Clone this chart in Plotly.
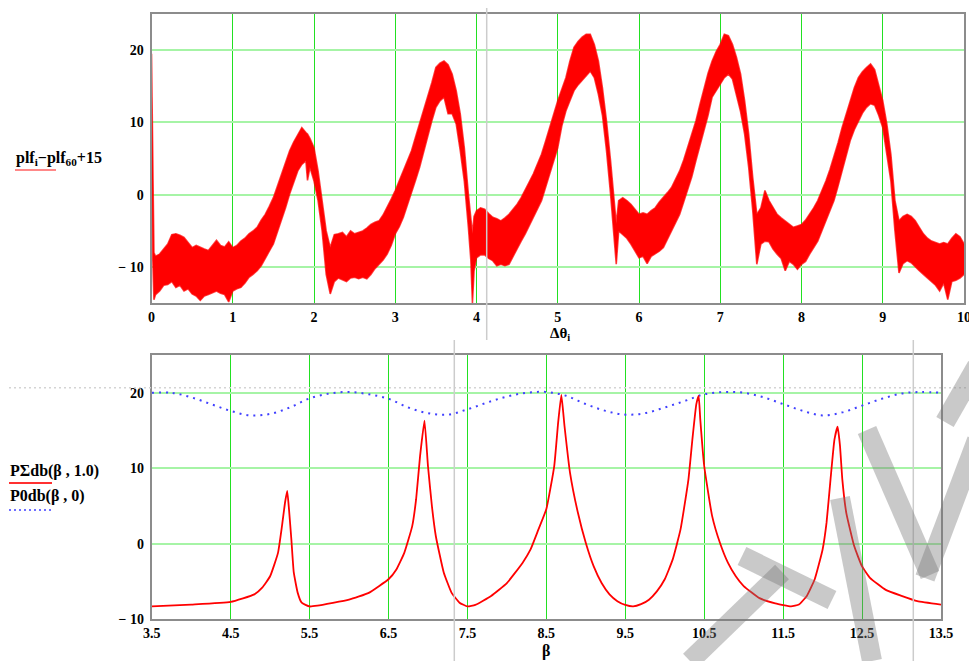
import plotly.graph_objects as go

# ---------------- data: top panel (noisy measured band) ----------------
theta = [0.00, 0.008, 0.016, 0.03, 0.05, 0.1, 0.15, 0.2, 0.25, 0.3, 0.35, 0.4, 0.45, 0.5, 0.55, 0.6, 0.65, 0.7, 0.75, 0.8,
         0.85, 0.9, 0.95, 1.0, 1.05, 1.1, 1.15, 1.2, 1.25, 1.3, 1.35, 1.4, 1.45, 1.5, 1.55, 1.6, 1.65, 1.7, 1.75, 1.8,
         1.85, 1.9, 1.92, 1.95, 2.0, 2.05, 2.1, 2.15, 2.2, 2.25, 2.3, 2.35, 2.4, 2.45, 2.5, 2.55, 2.6, 2.65, 2.7, 2.75,
         2.8, 2.85, 2.9, 2.95, 3.0, 3.05, 3.1, 3.15, 3.2, 3.25, 3.3, 3.35, 3.4, 3.45, 3.5, 3.55, 3.6, 3.65, 3.7, 3.75,
         3.8, 3.85, 3.9, 3.93, 3.95, 3.97, 4.0, 4.05, 4.1, 4.15, 4.2, 4.25, 4.3, 4.35, 4.4, 4.45, 4.5, 4.55, 4.6, 4.65,
         4.7, 4.75, 4.8, 4.85, 4.9, 4.95, 5.0, 5.05, 5.1, 5.15, 5.2, 5.25, 5.3, 5.35, 5.4, 5.45, 5.5, 5.55, 5.6, 5.65,
         5.7, 5.72, 5.75, 5.8, 5.85, 5.9, 5.95, 6.0, 6.05, 6.1, 6.15, 6.2, 6.25, 6.3, 6.35, 6.4, 6.45, 6.5, 6.55, 6.6,
         6.65, 6.7, 6.75, 6.8, 6.85, 6.9, 6.95, 7.0, 7.05, 7.1, 7.15, 7.2, 7.25, 7.3, 7.35, 7.4, 7.45, 7.5, 7.55, 7.6,
         7.65, 7.7, 7.75, 7.8, 7.85, 7.9, 7.95, 8.0, 8.05, 8.1, 8.15, 8.2, 8.25, 8.3, 8.35, 8.4, 8.45, 8.5, 8.55, 8.6,
         8.65, 8.7, 8.75, 8.8, 8.85, 8.9, 8.95, 9.0, 9.05, 9.1, 9.15, 9.2, 9.25, 9.3, 9.35, 9.4, 9.45, 9.5, 9.55, 9.6,
         9.65, 9.7, 9.75, 9.8, 9.85, 9.9, 9.95, 10.0]
plf_upper = [19.5, 12.0, 1.0, -8.0, -8.5, -8.2, -7.5, -6.8, -5.5, -5.4, -5.6, -5.9, -6.6, -7.3, -7.0, -7.3, -7.5, -7.7, -7.0, -6.3,
             -7.0, -7.2, -6.5, -7.3, -7.0, -6.4, -6.0, -5.4, -5.0, -4.5, -3.5, -2.7, -1.6, -0.4, 1.2, 2.9, 4.5, 6.1, 7.3, 8.4,
             9.3, 8.6, 8.4, 7.8, 6.5, 3.3, -0.8, -5.0, -7.3, -5.5, -5.4, -5.2, -5.8, -5.0, -5.4, -5.2, -5.0, -4.6, -4.1, -3.8,
             -3.6, -2.8, -1.8, -0.6, 0.6, 2.0, 3.3, 4.8, 6.1, 8.0, 9.8, 11.8, 13.5, 15.5, 17.6, 18.2, 18.5, 18.0, 16.7, 14.4,
             11.2, 6.5, 0.1, -3.0, -5.4, -3.0, -2.2, -1.8, -2.0, -2.6, -3.1, -3.3, -3.6, -3.2, -2.7, -2.0, -1.3, -0.4, 0.6, 1.8,
             2.9, 4.2, 5.6, 7.4, 9.3, 11.2, 13.0, 14.6, 16.2, 18.5, 20.4, 21.2, 21.8, 22.2, 22.2, 20.8, 18.5, 14.8, 10.2, 4.7,
             -2.2, -4.0, -0.8, -0.4, -0.8, -1.3, -2.0, -2.7, -2.5, -2.7, -2.2, -1.8, -1.0, -0.4, 0.3, 1.0, 2.2, 3.3, 4.8, 6.5,
             8.3, 10.2, 12.5, 14.8, 16.8, 18.5, 19.8, 20.8, 22.2, 22.0, 20.8, 19.0, 16.7, 13.0, 8.4, 2.4, -2.7, -1.8, 0.6, -0.8,
             -1.8, -2.7, -3.2, -3.6, -4.0, -4.5, -4.3, -4.1, -3.5, -2.7, -1.8, -0.8, 0.5, 1.9, 3.5, 5.2, 7.2, 9.3, 11.2, 13.0,
             14.8, 16.2, 17.0, 17.6, 18.1, 17.3, 15.3, 13.0, 9.8, 5.6, -0.8, -3.6, -3.0, -2.7, -3.0, -3.6, -4.5, -5.4, -6.0, -6.4,
             -6.6, -6.8, -6.6, -6.8, -6.0, -5.4, -5.8, -6.8]
plf_lower = [10.0, 0.5, -9.0, -14.5, -13.8, -13.3, -12.5, -12.4, -12.0, -12.8, -12.5, -13.3, -13.0, -13.7, -14.0, -14.6, -14.0, -13.8, -13.5, -13.3,
             -13.6, -13.8, -14.8, -13.3, -13.0, -12.8, -12.2, -11.4, -11.0, -10.5, -9.8, -8.7, -7.8, -6.8, -5.2, -3.6, -1.8, 0.1, 1.8, 3.3,
             4.2, 4.7, 2.0, 3.8, 1.9, -0.8, -5.0, -11.0, -13.7, -12.0, -11.5, -11.8, -12.0, -11.5, -11.4, -11.6, -11.4, -11.6, -11.0, -10.2,
             -9.6, -9.0, -8.2, -7.0, -5.4, -4.4, -3.1, -1.5, 0.1, 2.0, 3.8, 6.0, 8.4, 10.2, 12.1, 13.0, 13.5, 11.2, 11.2, 9.8,
             6.1, 1.9, -4.5, -9.0, -15.0, -10.5, -8.7, -8.3, -8.3, -8.8, -9.1, -9.8, -9.6, -9.8, -9.6, -8.5, -7.3, -6.4, -5.4, -4.2,
             -3.1, -2.0, -0.8, 1.0, 2.9, 4.8, 6.5, 9.5, 11.6, 13.0, 14.4, 15.2, 15.8, 16.5, 17.1, 16.2, 13.9, 11.0, 6.1, 0.1,
             -7.3, -9.6, -5.0, -5.5, -6.0, -6.8, -7.8, -8.7, -8.5, -9.5, -8.5, -8.2, -7.8, -7.3, -6.2, -5.0, -3.8, -2.7, -1.0, 0.6,
             2.5, 4.7, 6.8, 8.8, 11.0, 13.5, 14.5, 15.3, 16.2, 16.7, 16.0, 13.9, 11.5, 8.4, 3.8, -2.2, -9.6, -6.8, -6.4, -6.5,
             -7.5, -8.2, -8.8, -10.5, -9.2, -9.6, -10.3, -9.6, -9.2, -8.2, -7.3, -6.4, -5.0, -3.6, -2.2, -0.8, 1.2, 3.3, 5.5, 7.5,
             9.0, 10.2, 11.3, 12.1, 12.6, 12.4, 11.0, 9.3, 5.6, 1.9, -5.0, -10.8, -9.5, -9.1, -9.4, -10.0, -10.5, -11.0, -11.5, -11.9,
             -12.5, -13.3, -12.2, -14.5, -12.0, -11.8, -11.5, -11.0]

top_xticks = [0, 1, 2, 3, 4, 5, 6, 7, 8, 9, 10]
y_ticks = [-10, 0, 10, 20]
y_ticktext = ["\u2212 10", "0", "10", "20"]

# ---------------- data: bottom panel ----------------
beta_sum = [3.5, 4.0, 4.5, 4.8, 4.9, 5.0, 5.1, 5.15, 5.19, 5.217, 5.24, 5.27, 5.3, 5.35, 5.4, 5.5, 5.6, 6.0, 6.25, 6.5,
            6.6, 6.7, 6.8, 6.85, 6.9, 6.956, 7.0, 7.05, 7.1, 7.2, 7.3, 7.4, 7.5, 7.6, 7.8, 8.0, 8.2, 8.3, 8.4, 8.5,
            8.6, 8.65, 8.69, 8.73, 8.8, 8.9, 9.0, 9.1, 9.2, 9.3, 9.4, 9.5, 9.6, 9.7, 9.8, 9.9, 10.0, 10.1, 10.2, 10.3,
            10.35, 10.4, 10.43, 10.45, 10.5, 10.6, 10.7, 10.8, 10.9, 11.0, 11.2, 11.4, 11.6, 11.7, 11.8, 11.9, 12.0, 12.05, 12.1, 12.15,
            12.19, 12.22, 12.25, 12.3, 12.4, 12.5, 12.6, 12.8, 13.0, 13.2, 13.5]
p_sum_db = [-8.3, -8.05, -7.7, -6.7, -5.8, -4.3, -1.2, 2.3, 5.5, 7.0, 4.5, 0.5, -3.8, -6.5, -7.8, -8.3, -8.2, -7.4, -6.5, -4.7,
            -3.4, -1.2, 2.3, 5.9, 11.6, 16.3, 10.3, 5.0, 1.0, -3.8, -6.5, -7.8, -8.3, -8.1, -6.9, -5.2, -2.5, -0.75, 1.9, 4.6,
            10.3, 16.1, 19.7, 15.6, 9.4, 4.1, 0.1, -3.0, -5.2, -6.7, -7.6, -8.1, -8.3, -8.0, -7.4, -6.3, -4.7, -2.1, 1.9, 8.5,
            13.8, 18.5, 19.6, 16.5, 10.3, 3.7, 0.1, -2.5, -4.3, -5.6, -7.2, -7.9, -8.3, -8.05, -6.9, -4.7, -0.75, 2.8, 8.5, 13.8,
            15.5, 13.0, 8.5, 4.1, -0.3, -3.0, -4.5, -6.1, -6.9, -7.6, -8.05]

beta_p0 = [3.5, 3.75, 4.0, 4.25, 4.5, 4.75, 5.0, 5.25, 5.5, 5.75, 6.0, 6.25, 6.5, 6.75, 7.0, 7.25, 7.5, 7.75, 8.0, 8.25,
           8.5, 8.75, 9.0, 9.25, 9.5, 9.75, 10.0, 10.25, 10.5, 10.75, 11.0, 11.25, 11.5, 11.75, 12.0, 12.25, 12.5, 12.75, 13.0, 13.25, 13.5]
p0_db = [20.0, 20.0, 19.4, 18.5, 17.6, 17.0, 17.2, 18.05, 19.25, 19.9, 20.1, 19.8, 19.2, 18.05, 17.3, 17.1, 17.8, 18.7, 19.5, 20.0,
         20.1, 19.6, 18.5, 17.6, 17.1, 17.3, 18.05, 18.9, 19.8, 20.1, 20.0, 19.4, 18.5, 17.6, 17.0, 17.4, 18.3, 19.2, 19.9, 20.1, 20.0]

bottom_xticks = [3.5, 4.5, 5.5, 6.5, 7.5, 8.5, 9.5, 10.5, 11.5, 12.5, 13.5]
bottom_xticktext = ["3.5", "4.5", "5.5", "6.5", "7.5", "8.5", "9.5", "10.5", "11.5", "12.5", "13.5"]

# ---------------- figure ----------------
# page body adds an 8px offset, so the figure is sized to the remaining window area
OFF = 8
W, H = 977 - OFF, 661 - OFF
FONT = "Liberation Serif"
RED = "#ff0000"

def px(sx):
    return (sx - OFF) / W

def py(sy):
    return 1 - (sy - OFF) / H

fig = go.Figure()

fig.add_trace(go.Scatter(x=theta, y=plf_lower, mode="lines", line=dict(color="rgba(255,0,0,0.75)", width=1.6),
                         xaxis="x", yaxis="y", showlegend=False, hoverinfo="skip"))
fig.add_trace(go.Scatter(x=theta, y=plf_upper, mode="lines", line=dict(color="rgba(255,0,0,0.75)", width=1.6),
                         fill="tonexty", fillcolor=RED,
                         xaxis="x", yaxis="y", showlegend=False, hoverinfo="skip"))

fig.add_trace(go.Scatter(x=beta_p0, y=p0_db, mode="lines", line=dict(color="#4040ff", width=2, dash="2px,5px", shape="spline"),
                         xaxis="x2", yaxis="y2", showlegend=False))
fig.add_trace(go.Scatter(x=beta_sum, y=p_sum_db, mode="lines", line=dict(color=RED, width=1.8, shape="spline", smoothing=0.4),
                         xaxis="x2", yaxis="y2", showlegend=False))

tickfont = dict(family=FONT, size=14, color="black", weight="bold")
xgrid = dict(showgrid=True, gridcolor="#22e022", gridwidth=1, zeroline=False, showline=True, mirror=True,
             linecolor="#8c8c8c", linewidth=2, ticks="", tickfont=tickfont, automargin=False)
ygrid = dict(showgrid=True, gridcolor="#a6f4a6", gridwidth=2, zeroline=False, showline=True, mirror=True,
             linecolor="#8c8c8c", linewidth=2, ticks="", tickfont=tickfont, ticklabelstandoff=3, automargin=False)

fig.update_layout(
    width=W, height=H, margin=dict(l=0, r=0, t=0, b=0, autoexpand=False),
    paper_bgcolor="white", plot_bgcolor="white",
    xaxis=dict(domain=[px(151.5), px(964)], range=[0, 10], tickvals=top_xticks, anchor="y", **xgrid),
    yaxis=dict(domain=[py(303.3), py(14)], range=[-15, 25], tickvals=y_ticks, ticktext=y_ticktext, anchor="x", **ygrid),
    xaxis2=dict(domain=[px(151.7), px(941)], range=[3.5, 13.5], tickvals=bottom_xticks, ticktext=bottom_xticktext,
                anchor="y2", **xgrid),
    yaxis2=dict(domain=[py(619.3), py(355)], range=[-10, 25], tickvals=y_ticks, ticktext=y_ticktext, anchor="x2", **ygrid),
)

lab_font = dict(family=FONT, size=16, color="black", weight="bold")
anns = [
    dict(x=px(560), y=py(334), text="\u0394\u03b8<sub>i</sub>", xanchor="center", yanchor="middle", font=dict(family=FONT, size=15, color="black", weight="bold")),
    dict(x=px(546), y=py(651), text="\u03b2", xanchor="center", yanchor="middle", font=dict(family=FONT, size=16, color="black", weight="bold")),
    dict(x=px(14), y=py(158), text="plf<sub>i</sub>\u2212plf<sub>60</sub>+15", xanchor="left", yanchor="middle", font=lab_font),
    dict(x=px(8), y=py(471), text="P\u03a3db(\u03b2 , 1.0)", xanchor="left", yanchor="middle", font=lab_font),
    dict(x=px(8), y=py(496), text="P0db(\u03b2 , 0)", xanchor="left", yanchor="middle", font=lab_font),
]
for a in anns:
    a.update(xref="paper", yref="paper", showarrow=False)
fig.update_layout(annotations=anns)

shapes = []
# legend-like underlines
shapes.append(dict(type="line", xref="paper", yref="paper", x0=px(15), x1=px(56), y0=py(170), y1=py(170), line=dict(color="#ff6060", width=1.5)))
shapes.append(dict(type="line", xref="paper", yref="paper", x0=px(9), x1=px(52), y0=py(483), y1=py(483), line=dict(color="#ff3030", width=2)))
shapes.append(dict(type="line", xref="paper", yref="paper", x0=px(9), x1=px(52), y0=py(510), y1=py(510), line=dict(color="#4040ff", width=1.5, dash="2px,3px")))
# light grey cursor lines
shapes.append(dict(type="line", xref="paper", yref="paper", x0=px(9), x1=1, y0=py(387.7), y1=py(387.7), line=dict(color="#d4d4d4", width=1.5, dash="2px,3px")))
shapes.append(dict(type="line", xref="paper", yref="paper", x0=px(486.7), x1=px(486.7), y0=1, y1=py(340), line=dict(color="#cccccc", width=1.5)))
shapes.append(dict(type="line", xref="paper", yref="paper", x0=px(454.3), x1=px(454.3), y0=py(340), y1=0, line=dict(color="#cccccc", width=1.5)))
shapes.append(dict(type="line", xref="paper", yref="paper", x0=px(913.3), x1=px(913.3), y0=py(340), y1=0, line=dict(color="#cccccc", width=1.5)))
# watermark strokes (approximate)
wm = [((690, 661), (782, 572)), ((742, 556), (832, 600)),
      ((840, 498), (872, 661)),
      ((867, 430), (930, 575)), ((925, 578), (977, 440)), ((945, 422), (977, 366))]
for (a, b) in wm:
    shapes.append(dict(type="line", xref="paper", yref="paper", x0=px(a[0]), y0=py(a[1]), x1=px(b[0]), y1=py(b[1]),
                       line=dict(color="rgba(120,120,120,0.4)", width=20)))
fig.update_layout(shapes=shapes)

fig.write_html("out.html")
